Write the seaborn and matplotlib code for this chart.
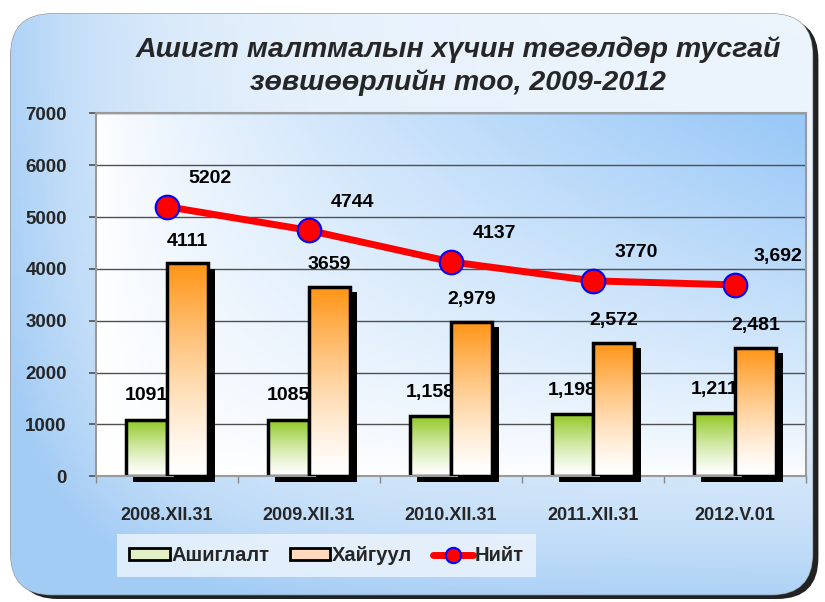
import numpy as np
import pandas as pd
import matplotlib
matplotlib.use('Agg')
import matplotlib.pyplot as plt
import matplotlib.patheffects as pe
from matplotlib.patches import FancyBboxPatch, Rectangle, Patch
from matplotlib.lines import Line2D
import seaborn as sns

dates = ['2008.XII.31', '2009.XII.31', '2010.XII.31', '2011.XII.31', '2012.V.01']
ashiglalt = [1091, 1085, 1158, 1198, 1211]
haiguul = [4111, 3659, 2979, 2572, 2481]
niit = [5202, 4744, 4137, 3770, 3692]
ashiglalt_lbl = ['1091', '1085', '1,158', '1,198', '1,211']
haiguul_lbl = ['4111', '3659', '2,979', '2,572', '2,481']
niit_lbl = ['5202', '4744', '4137', '3770', '3,692']
series = ['Ашиглалт', 'Хайгуул', 'Нийт']
title = 'Ашигт малтмалын хүчин төгөлдөр тусгай\nзөвшөөрлийн тоо, 2009-2012'

df = pd.DataFrame({
    'date': dates * 2,
    'value': ashiglalt + haiguul,
    'type': [series[0]] * 5 + [series[1]] * 5,
})

sns.set_theme(style='white')
plt.rcParams['font.family'] = ['Liberation Sans', 'DejaVu Sans']
plt.rcParams['font.weight'] = 'bold'

fig = plt.figure(figsize=(8.25, 6.02), dpi=100)
fig.patch.set_facecolor('white')

# background panel with rounded corners and gradient
bg = fig.add_axes([0, 0, 1, 1], zorder=-10)
bg.set_axis_off()
bg.set_xlim(0, 1)
bg.set_ylim(0, 1)
u, v = np.meshgrid(np.linspace(0, 1, 200), np.linspace(0, 1, 200))
w = np.clip(0.9 * np.exp(-u * 6) + 0.9 * np.exp(-v * 4.5), 0, 1)
blue = np.array([0.64, 0.80, 0.96])
white = np.array([0.93, 0.96, 0.99])
img = white + (blue - white) * w[..., None]
shadow = FancyBboxPatch((0.02, 0.005), 0.972, 0.965, boxstyle='round,pad=0,rounding_size=0.05',
                        transform=bg.transAxes, facecolor='#222222', edgecolor='none', mutation_aspect=825 / 602)
bg.add_patch(shadow)
panel = FancyBboxPatch((0.013, 0.012), 0.972, 0.965, boxstyle='round,pad=0,rounding_size=0.05',
                       transform=bg.transAxes, facecolor='none', edgecolor='#888888', lw=0.8,
                       mutation_aspect=825 / 602)
bg.add_patch(panel)
im = bg.imshow(img, extent=[0, 1, 0, 1], origin='lower', aspect='auto', zorder=1)
im.set_clip_path(panel)

ax = fig.add_axes([0.1164, 0.209, 0.8606, 0.6025])

# plot area gradient
pw = np.clip((u * v) ** 0.75 * 1.05, 0, 1)
pblue = np.array([0.61, 0.79, 0.97])
pimg = np.ones(3) + (pblue - np.ones(3)) * pw[..., None]
ax.imshow(pimg, extent=[-0.5, 4.5, 0, 7000], origin='lower', aspect='auto', zorder=0)

sns.barplot(data=df, x='date', y='value', hue='type', ax=ax, width=0.58, gap=0,
            palette=['white', 'white'], edgecolor='black', linewidth=2.5, legend=False,
            saturation=1, zorder=2)

tops = {'Ашиглалт': (0.56, 0.78, 0.13), 'Хайгуул': (1.0, 0.58, 0.08)}
grad = np.linspace(0, 1, 100)[:, None]
bars = [p for p in ax.patches if isinstance(p, Rectangle)]
for i, p in enumerate(bars):
    top = np.array(tops[series[0] if i < 5 else series[1]])
    z = 2 if i < 5 else 3
    g = np.ones((100, 1, 3)) + (top - np.ones(3)) * (grad ** 1.3)[..., None]
    x0, y0, wd, ht = p.get_x(), p.get_y(), p.get_width(), p.get_height()
    p.set_zorder(z)
    p.set_facecolor('white')
    p.set_edgecolor('none')
    p.set_clip_on(False)
    p.set_path_effects([pe.SimplePatchShadow(offset=(5, -4), shadow_rgbFace='black', alpha=1), pe.Normal()])
    gi = ax.imshow(g, extent=[x0, x0 + wd, y0, y0 + ht], origin='lower', aspect='auto', zorder=z + 0.1)
    gi.set_clip_path(p)
    ax.add_patch(Rectangle((x0, y0), wd, ht, fill=False, edgecolor='black', lw=2.5, zorder=z + 0.2))

sns.lineplot(x=np.arange(5), y=niit, ax=ax, color='red', lw=5, marker='o', markersize=17,
             markerfacecolor='red', markeredgecolor='blue', markeredgewidth=1.5, zorder=5)

lbl_kw = dict(ha='center', va='center', fontsize=14, fontweight='bold', color='black',
              textcoords='offset pixels')
for i in range(5):
    ax.annotate(ashiglalt_lbl[i], (i - 0.145, ashiglalt[i]), xytext=(0, 24), zorder=2.5, **lbl_kw)
    ax.annotate(haiguul_lbl[i], (i + 0.145, haiguul[i]), xytext=(0, 22), zorder=4, **lbl_kw)
    ax.annotate(niit_lbl[i], (i, niit[i]), xytext=(43, 28), zorder=6, **lbl_kw)

ax.set_xlim(-0.5, 4.5)
ax.set_ylim(0, 7000)
ax.set_yticks(range(0, 7001, 1000))
ax.set_xticks(np.arange(5))
ax.set_xticklabels(dates)
ax.set_xticks(np.arange(-0.5, 4.6, 1), minor=True)
ax.tick_params(axis='x', which='major', length=0, pad=22, labelsize=13)
ax.tick_params(axis='x', which='minor', length=5, color='#888888', direction='out', bottom=True)
ax.tick_params(axis='y', length=5, color='#555555', left=True, direction='out', labelsize=13.5, pad=16)
for lab in ax.get_xticklabels() + ax.get_yticklabels():
    lab.set_fontweight('bold')
ax.set_xlabel('')
ax.set_ylabel('')
ax.grid(axis='y', color='#505050', lw=1, zorder=1)
ax.set_axisbelow(True)
for s in ax.spines.values():
    s.set_color('#9a9a9a')
    s.set_linewidth(1.5)

fig.text(0.555, 0.890, title, ha='center', va='center', fontsize=20.5, fontweight='bold',
         fontstyle='italic', linespacing=1.32)

handles = [Patch(facecolor='#e2f0c8', edgecolor='black', lw=2),
           Patch(facecolor='#ffd9bd', edgecolor='black', lw=2),
           Line2D([], [], color='red', lw=5, marker='o', markersize=11, markerfacecolor='red',
                  markeredgecolor='blue', markeredgewidth=1.5)]
leg = fig.legend(handles, series, loc='center', bbox_to_anchor=(0.396, 0.077), ncol=3,
                 frameon=True, fancybox=False, handlelength=2.0, handleheight=0.5,
                 handletextpad=0.1, columnspacing=1.0, borderpad=0.6,
                 prop={'weight': 'bold', 'size': 14.5})
leg.get_frame().set_facecolor('#eef5fd')
leg.get_frame().set_edgecolor('none')

fig.savefig('out.png', dpi=100)
